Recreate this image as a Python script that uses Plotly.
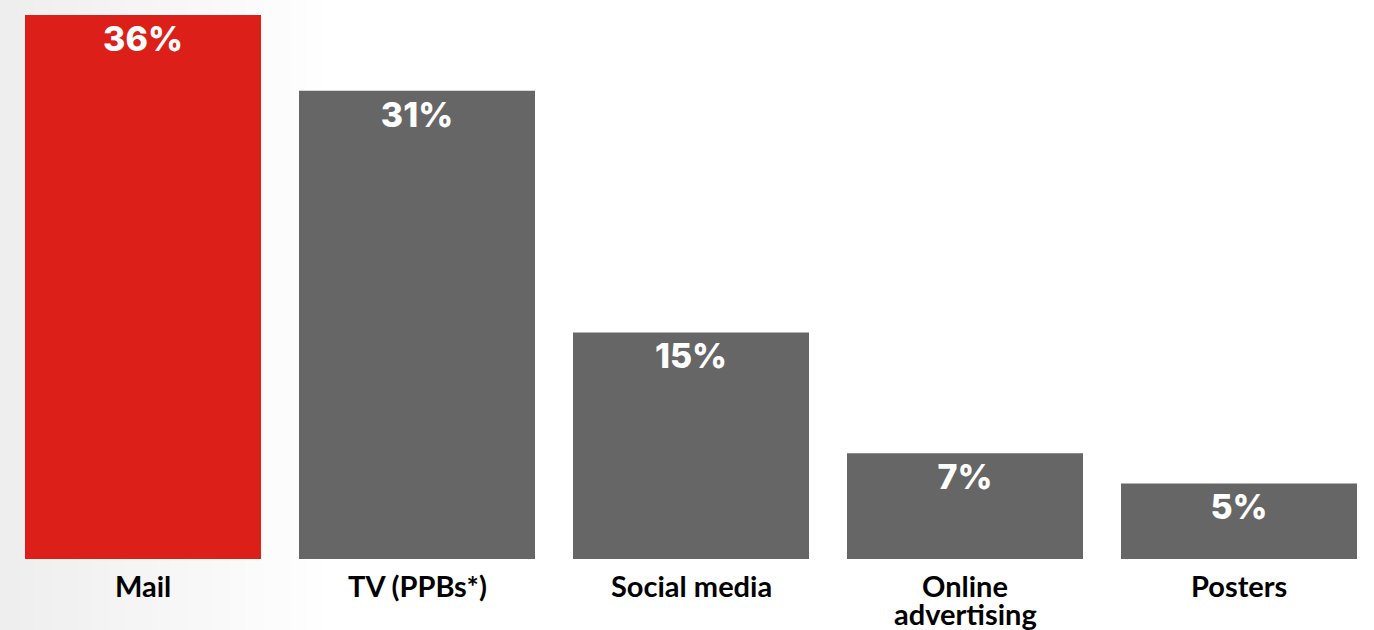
import plotly.graph_objects as go

# Share of respondents citing each channel
categories = ["Mail", "TV (PPBs*)", "Social media", "Online<br>advertising", "Posters"]
values = [36, 31, 15, 7, 5]
bar_colors = ["#DC1F18", "#666666", "#666666", "#666666", "#666666"]

W, H = 1374, 630

fig = go.Figure(
    go.Bar(
        x=categories,
        y=values,
        marker=dict(color=bar_colors, line=dict(width=0)),
        text=[f"{v}%" for v in values],
        textposition="inside",
        insidetextanchor="end",
        textangle=0,
        insidetextfont=dict(family="Inter", size=34, color="white", weight=800),
        hoverinfo="skip",
    )
)

# Category labels under the bars, one annotation per text line for tight leading
annotations = []
for cat in categories:
    for j, line in enumerate(cat.split("<br>")):
        annotations.append(
            dict(
                x=cat, xref="x", y=0, yref="paper",
                text=line, showarrow=False,
                xanchor="center", yanchor="middle",
                yshift=-26 - 28 * j,
                font=dict(family="Lato", size=29, color="black", weight="bold"),
            )
        )

# Soft grey fade on the left edge of the canvas
shapes = []
n_strips = 40
fade_px = 340
for i in range(n_strips):
    t = i / (n_strips - 1)
    g = int(round(238 + (255 - 238) * t))
    shapes.append(
        dict(
            type="rect", xref="paper", yref="paper", layer="below",
            x0=i * fade_px / n_strips / W, x1=(i + 1) * fade_px / n_strips / W + 0.001,
            y0=-1, y1=2,
            fillcolor=f"rgb({g},{g},{g})", line=dict(width=0),
        )
    )

pitch = 274.0
x0 = -0.5 - 6 / pitch
fig.update_layout(
    width=W, height=H,
    margin=dict(l=0, r=0, t=0, b=71),
    paper_bgcolor="white",
    plot_bgcolor="rgba(0,0,0,0)",
    bargap=38 / pitch,
    shapes=shapes,
    annotations=annotations,
    showlegend=False,
    xaxis=dict(
        range=[x0, x0 + W / pitch],
        showgrid=False, zeroline=False, showline=False, ticks="",
        showticklabels=False,
        fixedrange=True,
    ),
    yaxis=dict(range=[0, 37], visible=False, fixedrange=True),
)

fig.write_html("out.html")
